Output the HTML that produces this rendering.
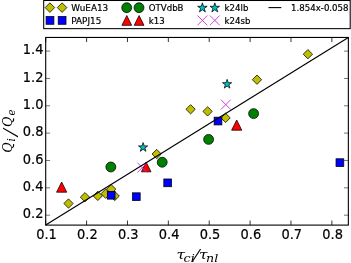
<!DOCTYPE html>
<html><head><meta charset="utf-8"><title>plot</title>
<style>
html,body{margin:0;padding:0;background:#fff;}
svg{display:block;}
text{font-family:"DejaVu Sans","Liberation Sans",sans-serif;fill:#000;}
.tk{font-size:13.0px;stroke:#000;stroke-width:0.2px;}
.lg{font-size:8.85px;stroke:#000;stroke-width:0.2px;}
.m{font-family:"DejaVu Serif","Liberation Serif",serif;font-style:italic;}
</style></head><body>
<svg width="351" height="263" viewBox="0 0 351 263">
<rect x="0" y="0" width="351" height="263" fill="#fff"/>
<path d="M68.50 198.85L73.15 203.50L68.50 208.15L63.85 203.50Z" fill="#bfbf00" stroke="#000" stroke-width="0.75"/>
<path d="M85.00 192.55L89.65 197.20L85.00 201.85L80.35 197.20Z" fill="#bfbf00" stroke="#000" stroke-width="0.75"/>
<path d="M97.80 191.25L102.45 195.90L97.80 200.55L93.15 195.90Z" fill="#bfbf00" stroke="#000" stroke-width="0.75"/>
<path d="M105.70 189.05L110.35 193.70L105.70 198.35L101.05 193.70Z" fill="#bfbf00" stroke="#000" stroke-width="0.75"/>
<path d="M111.20 184.55L115.85 189.20L111.20 193.85L106.55 189.20Z" fill="#bfbf00" stroke="#000" stroke-width="0.75"/>
<path d="M114.70 191.35L119.35 196.00L114.70 200.65L110.05 196.00Z" fill="#bfbf00" stroke="#000" stroke-width="0.75"/>
<path d="M156.70 149.35L161.35 154.00L156.70 158.65L152.05 154.00Z" fill="#bfbf00" stroke="#000" stroke-width="0.75"/>
<path d="M190.60 104.65L195.25 109.30L190.60 113.95L185.95 109.30Z" fill="#bfbf00" stroke="#000" stroke-width="0.75"/>
<path d="M207.60 106.75L212.25 111.40L207.60 116.05L202.95 111.40Z" fill="#bfbf00" stroke="#000" stroke-width="0.75"/>
<path d="M225.60 113.25L230.25 117.90L225.60 122.55L220.95 117.90Z" fill="#bfbf00" stroke="#000" stroke-width="0.75"/>
<path d="M257.00 75.05L261.65 79.70L257.00 84.35L252.35 79.70Z" fill="#bfbf00" stroke="#000" stroke-width="0.75"/>
<path d="M307.90 49.55L312.55 54.20L307.90 58.85L303.25 54.20Z" fill="#bfbf00" stroke="#000" stroke-width="0.75"/>
<rect x="107.33" y="191.38" width="7.75" height="7.75" fill="#0000ff" stroke="#000" stroke-width="0.75"/>
<rect x="132.43" y="192.82" width="7.75" height="7.75" fill="#0000ff" stroke="#000" stroke-width="0.75"/>
<rect x="163.82" y="178.97" width="7.75" height="7.75" fill="#0000ff" stroke="#000" stroke-width="0.75"/>
<rect x="214.12" y="117.17" width="7.75" height="7.75" fill="#0000ff" stroke="#000" stroke-width="0.75"/>
<rect x="336.02" y="158.78" width="7.75" height="7.75" fill="#0000ff" stroke="#000" stroke-width="0.75"/>
<circle cx="110.85" cy="167.00" r="4.95" fill="#008000" stroke="#000" stroke-width="0.75"/>
<circle cx="162.20" cy="162.25" r="4.95" fill="#008000" stroke="#000" stroke-width="0.75"/>
<circle cx="208.60" cy="139.40" r="4.95" fill="#008000" stroke="#000" stroke-width="0.75"/>
<circle cx="253.60" cy="113.60" r="4.95" fill="#008000" stroke="#000" stroke-width="0.75"/>
<path d="M61.65 182.00L66.75 192.20L56.55 192.20Z" fill="#ff0000" stroke="#000" stroke-width="0.75"/>
<path d="M146.20 162.20L151.00 171.80L141.40 171.80Z" fill="#ff0000" stroke="#000" stroke-width="0.75"/>
<path d="M236.70 120.00L241.80 130.20L231.60 130.20Z" fill="#ff0000" stroke="#000" stroke-width="0.75"/>
<path d="M143.10 142.55L144.19 145.90L147.71 145.90L144.86 147.97L145.95 151.32L143.10 149.25L140.25 151.32L141.34 147.97L138.49 145.90L142.01 145.90Z" fill="#00bfbf" stroke="#000" stroke-width="0.75"/>
<path d="M227.10 79.35L228.19 82.70L231.71 82.70L228.86 84.77L229.95 88.12L227.10 86.05L224.25 88.12L225.34 84.77L222.49 82.70L226.01 82.70Z" fill="#00bfbf" stroke="#000" stroke-width="0.75"/>
<path d="M137.35 162.70L147.15 172.50M137.35 172.50L147.15 162.70" fill="none" stroke="#cc22cc" stroke-width="0.85"/>
<path d="M220.90 99.70L230.70 109.50M220.90 109.50L230.70 99.70" fill="none" stroke="#cc22cc" stroke-width="0.85"/>
<path d="M45.7 225.1L348.35 37.45" stroke="#000" stroke-width="1.15" fill="none"/>
<rect x="45.7" y="37.45" width="302.65000000000003" height="187.64999999999998" fill="none" stroke="#000" stroke-width="1.1"/>
<path d="M45.70 225.1V220.5M45.70 37.45V42.050000000000004M86.58 225.1V220.5M86.58 37.45V42.050000000000004M127.46 225.1V220.5M127.46 37.45V42.050000000000004M168.34 225.1V220.5M168.34 37.45V42.050000000000004M209.22 225.1V220.5M209.22 37.45V42.050000000000004M250.10 225.1V220.5M250.10 37.45V42.050000000000004M290.98 225.1V220.5M290.98 37.45V42.050000000000004M331.86 225.1V220.5M331.86 37.45V42.050000000000004" stroke="#000" stroke-width="0.8" fill="none"/>
<path d="M45.7 215.18H50.1M348.35 215.18H343.95M45.7 187.83H50.1M348.35 187.83H343.95M45.7 160.48H50.1M348.35 160.48H343.95M45.7 133.14H50.1M348.35 133.14H343.95M45.7 105.79H50.1M348.35 105.79H343.95M45.7 78.45H50.1M348.35 78.45H343.95M45.7 51.10H50.1M348.35 51.10H343.95" stroke="#000" stroke-width="0.55" fill="none"/>
<text class="tk" transform="translate(46.50 239.4) scale(1 1.055)" text-anchor="middle">0.1</text>
<text class="tk" transform="translate(87.38 239.4) scale(1 1.055)" text-anchor="middle">0.2</text>
<text class="tk" transform="translate(128.26 239.4) scale(1 1.055)" text-anchor="middle">0.3</text>
<text class="tk" transform="translate(169.14 239.4) scale(1 1.055)" text-anchor="middle">0.4</text>
<text class="tk" transform="translate(210.02 239.4) scale(1 1.055)" text-anchor="middle">0.5</text>
<text class="tk" transform="translate(250.90 239.4) scale(1 1.055)" text-anchor="middle">0.6</text>
<text class="tk" transform="translate(291.78 239.4) scale(1 1.055)" text-anchor="middle">0.7</text>
<text class="tk" transform="translate(332.66 239.4) scale(1 1.055)" text-anchor="middle">0.8</text>
<text class="tk" transform="translate(43.4 218.48) scale(1 1.055)" text-anchor="end">0.2</text>
<text class="tk" transform="translate(43.4 191.13) scale(1 1.055)" text-anchor="end">0.4</text>
<text class="tk" transform="translate(43.4 163.78) scale(1 1.055)" text-anchor="end">0.6</text>
<text class="tk" transform="translate(43.4 136.44) scale(1 1.055)" text-anchor="end">0.8</text>
<text class="tk" transform="translate(43.4 109.09) scale(1 1.055)" text-anchor="end">1.0</text>
<text class="tk" transform="translate(43.4 81.75) scale(1 1.055)" text-anchor="end">1.2</text>
<text class="tk" transform="translate(43.4 54.40) scale(1 1.055)" text-anchor="end">1.4</text>
<g transform="scale(1.24 1)"><text class="m" font-size="12.4" y="258.9"><tspan x="142.42">τ</tspan><tspan x="148.06" dy="2.9" font-size="10.2">ci</tspan><tspan x="160.48" dy="-2.9" font-size="12.4">τ</tspan><tspan x="166.13" dy="2.9" font-size="10.2">nl</tspan></text></g>
<text transform="translate(192.5 262.3) scale(1.5 1.08)" x="0" y="0" font-size="16.5" style="font-family:'Liberation Serif',serif;font-style:italic">/</text>
<g transform="translate(12.2 152.8) rotate(-90)"><text class="m" font-size="12.7" y="0"><tspan x="0">Q</tspan><tspan x="11.3" dy="3.0" font-size="10.2">i</tspan><tspan x="25.9" dy="-3.0" font-size="12.7">Q</tspan><tspan x="37.2" dy="3.0" font-size="10.2">e</tspan></text><text transform="translate(16.6 5.6) scale(1.5 1.4)" x="0" y="0" font-size="16.5" style="font-family:'Liberation Serif',serif;font-style:italic">/</text></g>
<rect x="43.7" y="0.5" width="306.5" height="28.15" fill="#fff" stroke="#000" stroke-width="1.05"/>
<path d="M49.90 2.80L54.70 7.60L49.90 12.40L45.10 7.60Z" fill="#bfbf00" stroke="#000" stroke-width="0.75"/>
<path d="M62.10 2.80L66.90 7.60L62.10 12.40L57.30 7.60Z" fill="#bfbf00" stroke="#000" stroke-width="0.75"/>
<rect x="46.10" y="16.50" width="7.8" height="7.8" fill="#0000ff" stroke="#000" stroke-width="0.75"/>
<rect x="58.20" y="16.50" width="7.8" height="7.8" fill="#0000ff" stroke="#000" stroke-width="0.75"/>
<text class="lg" x="71.3" y="10.7">WuEA13</text>
<text class="lg" x="71.3" y="23.5">PAPJ15</text>
<circle cx="126.70" cy="7.70" r="4.95" fill="#008000" stroke="#000" stroke-width="0.75"/>
<circle cx="139.00" cy="7.70" r="4.95" fill="#008000" stroke="#000" stroke-width="0.75"/>
<path d="M126.80 15.55L131.70 25.35L121.90 25.35Z" fill="#ff0000" stroke="#000" stroke-width="0.75"/>
<path d="M139.10 15.55L144.00 25.35L134.20 25.35Z" fill="#ff0000" stroke="#000" stroke-width="0.75"/>
<text class="lg" x="148.8" y="10.7" style="font-size:8.6px">OTVdbB</text>
<text class="lg" x="148.8" y="23.5" style="font-size:8.6px">k13</text>
<path d="M202.40 2.85L203.52 6.30L207.16 6.30L204.22 8.44L205.34 11.90L202.40 9.76L199.46 11.90L200.58 8.44L197.64 6.30L201.28 6.30Z" fill="#00bfbf" stroke="#000" stroke-width="0.75"/>
<path d="M214.80 2.85L215.92 6.30L219.56 6.30L216.62 8.44L217.74 11.90L214.80 9.76L211.86 11.90L212.98 8.44L210.04 6.30L213.68 6.30Z" fill="#00bfbf" stroke="#000" stroke-width="0.75"/>
<path d="M197.50 15.50L207.30 25.30M197.50 25.30L207.30 15.50" fill="none" stroke="#cc22cc" stroke-width="0.85"/>
<path d="M209.90 15.50L219.70 25.30M209.90 25.30L219.70 15.50" fill="none" stroke="#cc22cc" stroke-width="0.85"/>
<text class="lg" x="224.6" y="10.7" style="font-size:8.6px">k24lb</text>
<text class="lg" x="224.6" y="23.5" style="font-size:8.6px">k24sb</text>
<path d="M268.5 7.6H281.3" stroke="#000" stroke-width="1.1" fill="none"/>
<text class="lg" x="291.1" y="10.7" style="font-size:8.6px">1.854x-0.058</text>
</svg></body></html>
